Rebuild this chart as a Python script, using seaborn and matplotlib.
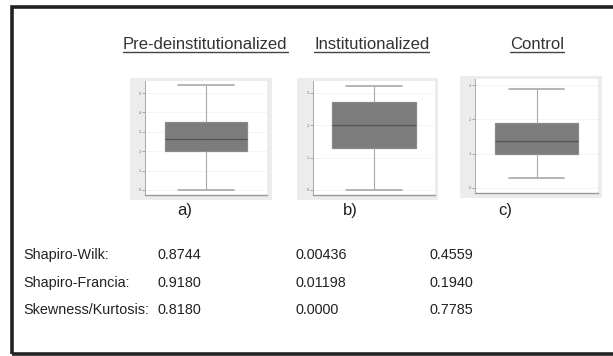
import matplotlib
matplotlib.use("Agg")
import matplotlib.pyplot as plt
import seaborn as sns
from matplotlib.patches import Rectangle
from matplotlib.lines import Line2D

sns.set_theme(style="white")
plt.rcParams['font.family'] = ['Liberation Sans', 'DejaVu Sans']

# ---- data (five-number summaries, arbitrary units) ----
groups = ["Pre-deinstitutionalized", "Institutionalized", "Control"]
panel_labels = ["a)", "b)", "c)"]
pre_values = [0.0, 2.0, 2.63, 3.5, 5.41]
inst_values = [0.0, 1.30, 2.01, 2.72, 3.22]
ctrl_values = [0.29, 0.99, 1.37, 1.90, 2.89]
yticks_a = [0, 1, 2, 3, 4, 5]
yticks_b = [0, 1, 2, 3]
yticks_c = [0, 1, 2, 3]

tests = ["Shapiro-Wilk:", "Shapiro-Francia:", "Skewness/Kurtosis:"]
pre_p = ["0.8744", "0.9180", "0.8180"]
inst_p = ["0.00436", "0.01198", "0.0000"]
ctrl_p = ["0.4559", "0.1940", "0.7785"]

W, H = 613, 356
fig = plt.figure(figsize=(W / 100, H / 100), dpi=100)
fig.patch.set_facecolor("white")


def fx(x):
    return x / W


def fy(y):
    return 1 - y / H


def rect(x0, y0, x1, y1, **kw):
    fig.patches.append(Rectangle((fx(x0), fy(y1)), fx(x1) - fx(x0), fy(y0) - fy(y1),
                                 transform=fig.transFigure, **kw))


# outer frame
rect(12, 7, 625, 354, fill=False, edgecolor="#222222", linewidth=2.6, zorder=5)

panels = [
    dict(gray=(130, 78, 272, 200), white=(145, 81, 267, 195), vals=pre_values,
         ticks=yticks_a, ylim=(-0.26, 5.62), width=0.68),
    dict(gray=(297, 78, 438, 200), white=(313, 81, 435, 195), vals=inst_values,
         ticks=yticks_b, ylim=(-0.155, 3.37), width=0.69),
    dict(gray=(460, 76, 602, 198), white=(475, 79, 598, 193), vals=ctrl_values,
         ticks=yticks_c, ylim=(-0.15, 3.18), width=0.67),
]

for p in panels:
    gx0, gy0, gx1, gy1 = p["gray"]
    rect(gx0, gy0, gx1, gy1, facecolor="#ececec", edgecolor="none", zorder=-2)
    wx0, wy0, wx1, wy1 = p["white"]
    ax = fig.add_axes([fx(wx0), fy(wy1), fx(wx1) - fx(wx0), fy(wy0) - fy(wy1)])
    ax.set_zorder(1)
    ax.set_facecolor("white")
    sns.boxplot(y=p["vals"], ax=ax, color="#7c7c7c", width=p["width"], whis=1.5,
                linecolor="#8a8a8a", linewidth=0.9, saturation=1,
                medianprops=dict(color="#555555", linewidth=1.0),
                boxprops=dict(facecolor="#7c7c7c", edgecolor="#8a8a8a"),
                whiskerprops=dict(color="#a8a8a8", linewidth=0.8),
                capprops=dict(color="#a8a8a8", linewidth=1.2))
    # widen whisker caps to match the reference
    lo, hi = min(p["vals"]), max(p["vals"])
    half = 0.335 * p["width"]
    for ln in ax.lines:
        yd = list(ln.get_ydata())
        xd = list(ln.get_xdata())
        if len(yd) == 2 and yd[0] == yd[1] and xd[0] != xd[1] and yd[0] in (lo, hi):
            ln.set_xdata([-half, half])
    ax.set_xlim(-0.5, 0.5)
    ax.set_ylim(*p["ylim"])
    ax.set_yticks(p["ticks"])
    ax.set_yticklabels([str(t) for t in p["ticks"]], fontsize=3, color="#777777")
    ax.tick_params(axis="y", length=2, width=0.5, color="#888888", pad=1, left=True)
    ax.set_xticks([])
    ax.yaxis.grid(True, color="#f2f2f2", linewidth=0.5)
    ax.set_axisbelow(True)
    for s in ["top", "right"]:
        ax.spines[s].set_visible(False)
    ax.spines["left"].set_color("#aaaaaa")
    ax.spines["left"].set_linewidth(0.7)
    ax.spines["bottom"].set_color("#999999")
    ax.spines["bottom"].set_linewidth(1.0)
    ax.set_ylabel("")
    ax.set_xlabel("")

# titles, underlined
title_x = [123, 314, 510]
renderer = fig.canvas.get_renderer()
for t, x in zip(groups, title_x):
    txt = fig.text(fx(x), fy(49), t, fontsize=12, color="#333333", ha="left", va="baseline")
    bb = txt.get_window_extent(renderer=renderer)
    y_line = fy(51.5)
    fig.lines.append(Line2D([bb.x0 / W, bb.x1 / W], [y_line, y_line], transform=fig.transFigure,
                            color="#444444", linewidth=1.0))

# panel labels
for lab, x in zip(panel_labels, [185, 350, 505]):
    fig.text(fx(x), fy(210), lab, fontsize=12, color="#222222", ha="center", va="center")

# statistics table
row_y = [255, 283, 310]
for t, y in zip(tests, row_y):
    fig.text(fx(23), fy(y), t, fontsize=10.4, color="#222222", ha="left", va="center")
for col, x in zip([pre_p, inst_p, ctrl_p], [157, 296, 430]):
    for v, y in zip(col, row_y):
        fig.text(fx(x), fy(y), v, fontsize=10.4, color="#222222", ha="left", va="center")

fig.savefig("out.png", dpi=100)
